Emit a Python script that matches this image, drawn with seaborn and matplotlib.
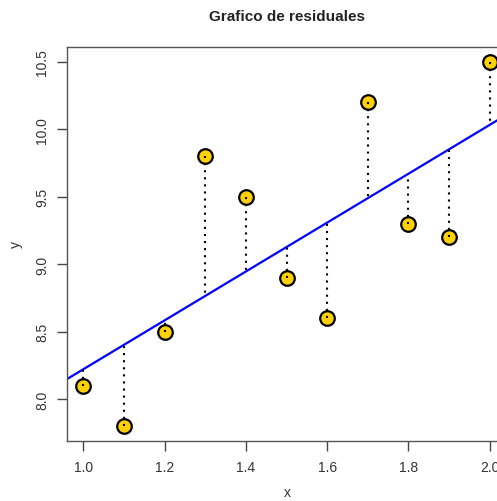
import numpy as np
import pandas as pd
import matplotlib
matplotlib.use("Agg")
import matplotlib.pyplot as plt
import seaborn as sns

x_vals = [1.0, 1.1, 1.2, 1.3, 1.4, 1.5, 1.6, 1.7, 1.8, 1.9, 2.0]
y_vals = [8.1, 7.8, 8.5, 9.8, 9.5, 8.9, 8.6, 10.2, 9.3, 9.2, 10.5]
x_ticks = [1.0, 1.2, 1.4, 1.6, 1.8, 2.0]
y_ticks = [8.0, 8.5, 9.0, 9.5, 10.0, 10.5]
title = "Grafico de residuales"

sns.set_theme(style="white")
plt.rcParams["font.family"] = ["Liberation Sans", "DejaVu Sans"]

df = pd.DataFrame({"x": x_vals, "y": y_vals})
slope, intercept = np.polyfit(df["x"], df["y"], 1)
df["fit"] = intercept + slope * df["x"]

fig = plt.figure(figsize=(4.97, 5.02), dpi=100)
ax = fig.add_axes([67 / 497, 60 / 502, (506 - 67) / 497, (442 - 48) / 502])

xr = max(x_vals) - min(x_vals)
yr = max(y_vals) - min(y_vals)
ax.set_xlim(min(x_vals) - 0.04 * xr, max(x_vals) + 0.04 * xr)
ax.set_ylim(min(y_vals) - 0.04 * yr, max(y_vals) + 0.04 * yr)

sns.scatterplot(data=df, x="x", y="y", ax=ax, s=110, color="#FFD000",
                edgecolor="black", linewidth=1.6, zorder=3, legend=False)
ax.axline((0, intercept), slope=slope, color="#0000FF", lw=1.6, zorder=2)
ax.vlines(df["x"], df["y"], df["fit"], colors="black", linestyles=(0, (1, 2.4)),
          lw=1.5, zorder=4)

ax.set_xticks(x_ticks)
ax.set_xticklabels([f"{v:.1f}" for v in x_ticks])
ax.set_yticks(y_ticks)
ax.set_yticklabels([f"{v:.1f}" for v in y_ticks], rotation=90, va="center")
ax.tick_params(axis="both", which="both", direction="out", length=7, width=1,
               color="#444444", labelsize=10, labelcolor="#333333", pad=6,
               bottom=True, left=True)
ax.tick_params(axis="x", pad=7)
for sp in ax.spines.values():
    sp.set_color("#555555")
    sp.set_linewidth(1.0)
ax.grid(False)

ax.set_xlabel("")
ax.set_ylabel("")
fig.text(287 / 497, 1 - 493 / 502, "x", ha="center", va="center",
         fontsize=10, color="#333333")
fig.text(16 / 497, 1 - 245 / 502, "y", ha="center", va="center",
         fontsize=10, color="#333333", rotation=90)
fig.text(287 / 502 * 502 / 497, 1 - 17 / 502, title, ha="center", va="center",
         fontsize=11, fontweight="bold", color="#222222")

fig.savefig("out.png", dpi=100)
